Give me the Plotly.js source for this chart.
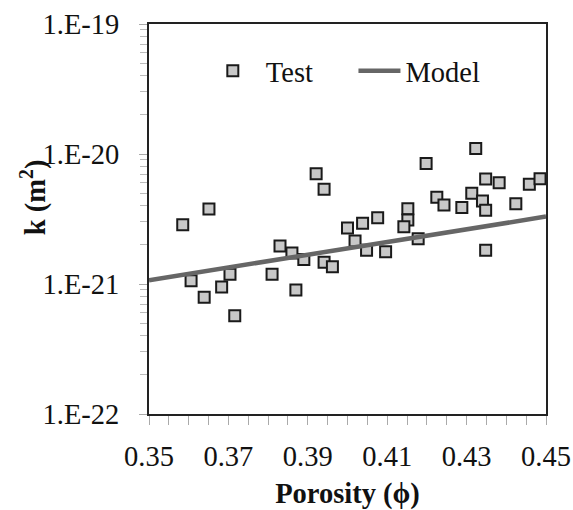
<!DOCTYPE html>
<html>
<head>
<meta charset="utf-8">
<script src="https://cdn.plot.ly/plotly-3.0.1.min.js"></script>
<style>html,body{margin:0;padding:0;background:#fff;}#chart{width:573px;height:510px;}</style>
</head>
<body>
<div id="chart"></div>
<script>
// Test data: porosity and permeability k (m^2)
var testPorosity = [0.3585,0.3651,0.3606,0.3639,0.3683,0.3704,0.3716,0.3810,0.3830,0.3860,0.3870,0.3890,0.3921,0.3941,0.3941,0.3962,
  0.4000,0.4019,0.4038,0.4048,0.4076,0.4096,0.4152,0.4152,0.4142,0.4178,0.4198,0.4225,0.4243,0.4288,0.4313,0.4323,0.4340,0.4348,0.4348,0.4348,0.4382,0.4424,0.4458,0.4485];
var testK = [2.86e-21,3.78e-21,1.06e-21,7.9e-22,9.5e-22,1.19e-21,5.7e-22,1.19e-21,1.96e-21,1.73e-21,9.0e-22,1.54e-21,7.06e-21,5.35e-21,1.47e-21,1.36e-21,
  2.70e-21,2.14e-21,2.93e-21,1.82e-21,3.24e-21,1.77e-21,3.79e-21,3.11e-21,2.76e-21,2.23e-21,8.47e-21,4.65e-21,4.05e-21,3.87e-21,4.99e-21,1.10e-20,4.35e-21,3.69e-21,1.82e-21,6.43e-21,6.01e-21,4.15e-21,5.85e-21,6.46e-21];
// Model curve
var modelPorosity = [0.35,0.40,0.45];
var modelK = [1.07e-21,1.88e-21,3.30e-21];
// Axis ticks
var xTickVals = [0.35,0.37,0.39,0.41,0.43,0.45];
var xTickText = ['0.35','0.37','0.39','0.41','0.43','0.45'];
var yTickVals = [1e-22,1e-21,1e-20,1e-19];
var yTickText = ['1.E-22','1.E-21','1.E-20','1.E-19'];
var yMinorVals = [];
[-22,-21,-20].forEach(function(e){for(var m=2;m<=9;m++){yMinorVals.push(m*Math.pow(10,e));}});

var font = 'Liberation Serif';
var fs = 28.5;
var F = function(){return {family:font, size:fs, color:'#111'};};
var traces = [
  {x: testPorosity, y: testK, mode:'markers', type:'scatter', name:'Test', legend:'legend',
   marker:{symbol:'square', size:11, color:'#c8c8c8', line:{color:'#1a1a1a', width:2}}},
  {x: modelPorosity, y: modelK, mode:'lines', type:'scatter', name:'Model', legend:'legend2',
   line:{color:'#666666', width:4.5}}
];
var layout = {
  width:573, height:510,
  margin:{l:149, r:27, t:24, b:96},
  paper_bgcolor:'#fff', plot_bgcolor:'#fff',
  font:F(),
  showlegend:true,
  legend:{orientation:'h', x:0.128, y:0.879, xanchor:'left', yanchor:'middle', bgcolor:'rgba(0,0,0,0)', font:F(), itemwidth:56},
  legend2:{orientation:'h', x:0.515, y:0.879, xanchor:'left', yanchor:'middle', bgcolor:'rgba(0,0,0,0)', font:F(), itemwidth:42},
  xaxis:{range:[0.35,0.45], tickvals:xTickVals, ticktext:xTickText, tickfont:F(),
    ticks:'outside', ticklen:9, tickcolor:'#aaa', tickwidth:1, ticklabelstandoff:7,
    minor:{dtick:0.005, tick0:0.35, ticks:'outside', ticklen:9, tickcolor:'#aaa', tickwidth:1, showgrid:false},
    showline:true, linecolor:'#222', linewidth:2, mirror:true, showgrid:false, zeroline:false,
    title:{text:'<b>Porosity (ϕ)</b>', font:F(), standoff:18}},
  yaxis:{type:'log', range:[-22,-19], tickvals:yTickVals, ticktext:yTickText, tickfont:F(),
    ticks:'outside', ticklen:8, tickcolor:'#aaa', tickwidth:1, ticklabelstandoff:14,
    minor:{tickvals:yMinorVals, ticks:'outside', ticklen:7, tickcolor:'#bbb', tickwidth:1, showgrid:false},
    showline:true, linecolor:'#222', linewidth:2, mirror:true, showgrid:false, zeroline:false},
  annotations:[{text:'<b>k (m<sup>2</sup>)</b>', xref:'paper', yref:'paper', x:-0.292, y:0.556, xanchor:'center', yanchor:'middle',
    textangle:-90, showarrow:false, font:F()}]
};
Plotly.newPlot('chart', traces, layout, {displayModeBar:false, staticPlot:true});
</script>
</body>
</html>
